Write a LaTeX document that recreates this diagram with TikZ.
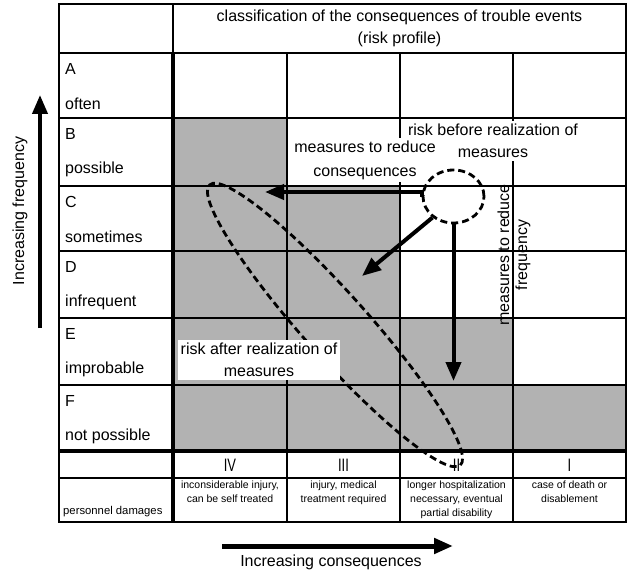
\documentclass[tikz,border=0pt]{standalone}
\usepackage{fontspec}
\setmainfont{Liberation Sans}
\newfontfamily\narrowf[FakeStretch=0.72]{Liberation Sans}
\usetikzlibrary{arrows.meta,shapes.geometric}
\definecolor{cellgray}{RGB}{178,178,178}
\begin{document}
\begin{tikzpicture}[x=1pt,y=-1pt,
  grid/.style={line width=2pt},
  thickgrid/.style={line width=3.5pt},
  txt/.style={font=\fontsize{16}{22}\selectfont, inner sep=0pt},
  roman/.style={font=\narrowf\fontsize{18}{22}\selectfont, inner sep=0pt},
  small/.style={font=\fontsize{10.5}{14}\selectfont, align=center, inner sep=0pt},
  lbl/.style={fill=white, align=center, inner sep=3pt, font=\fontsize{16}{22}\selectfont},
  arr/.style={line width=4pt, -{Triangle[length=19pt,width=15pt]}},
  dsh/.style={line width=2.8pt, dash pattern=on 7pt off 4pt},
]
\useasboundingbox (0,0) rectangle (628,572);
% shaded cells
\fill[cellgray] (173,118) rectangle (287,186);
\fill[cellgray] (173,186) rectangle (400,318);
\fill[cellgray] (173,318) rectangle (513,385);
\fill[cellgray] (173,385) rectangle (626,451);
% grid
\foreach \yy in {53,118,186,251,318,385,478} \draw[grid] (59,\yy) -- (626,\yy);
\draw[line width=4pt] (59,451) -- (626,451);
\foreach \xx in {287,400,513} \draw[grid] (\xx,53) -- (\xx,522);
\draw[grid] (173,4) -- (173,53);
\draw[thickgrid] (173,53) -- (173,522);
\draw[line width=2.5pt] (59,4) rectangle (626,522);
% header
\node[txt, align=center] (title) at (399.5,28) {classification of the consequences of trouble events\\(risk profile)};
% row labels
\foreach \ry/\rl/\rw in {53/A/often,118/B/possible,186/C/sometimes,251/D/infrequent,318/E/improbable,385/F/not possible} {
  \node[txt,anchor=west] (L\rl) at (65,\ry+16) {\rl};
  \node[txt,anchor=west] (W\rl) at (65,\ry+51) {\rw};
}
% classes
\node[roman] (c4) at (230,465) {IV};
\node[roman] (c3) at (343.5,465) {III};
\node[roman] (c2) at (456.5,465) {II};
\node[roman] (c1) at (569.5,465) {I};
\node[small, anchor=north] (d4) at (230,481) {inconsiderable injury,\\can be self treated};
\node[small, anchor=north] (d3) at (343.5,481) {injury, medical\\treatment required};
\node[small, anchor=north] (d2) at (456.5,481) {longer hospitalization\\necessary, eventual\\partial disability};
\node[small, anchor=north] (d1) at (569.5,481) {case of death or\\disablement};
\node[small, anchor=west, font=\fontsize{11.3}{14}\selectfont] (pd) at (63,512) {personnel damages};
% risk after ellipse
\coordinate (ea) at (335,325);
\draw[dsh, rotate around={-48.2:(ea)}] (ea) ellipse [x radius=188pt, y radius=32pt];
% labels
\node[lbl] (lblB) at (493,141) {risk before realization of\\measures};
\node[lbl] (lblC) at (365,160) {measures to reduce\\[2pt]consequences};
\node[lbl] (lblA) at (259,360) {risk after realization of\\measures};
\node[txt, rotate=90, align=center, font=\fontsize{16}{18}\selectfont] (lblF) at (514,255) {measures to reduce\\frequency};
% risk before circle
\node[dsh, draw, ellipse, minimum width=61pt, minimum height=53pt, inner sep=0pt] (rb) at (453.5,196.5) {};
\coordinate (hTip) at (265,192);
\coordinate (dTip) at (362,276);
\coordinate (vTip) at (455,381);
\draw[arr] (rb.west) |- (hTip);
\draw[arr] (rb.-135) -- (dTip);
\draw[arr] (rb.south) -- (rb.south |- vTip);
% axes
\coordinate (fB) at (40,328);
\coordinate (fT) at (40,95);
\draw[arr] (fB) -- (fT);
\node[txt, rotate=90] (freq) at (20,211) {Increasing frequency};
\coordinate (cL) at (222,546);
\coordinate (cR) at (453,546);
\draw[arr, line width=5pt] (cL) -- (cR);
\node[txt] (cons) at (331,562) {Increasing consequences};
\end{tikzpicture}
\end{document}
